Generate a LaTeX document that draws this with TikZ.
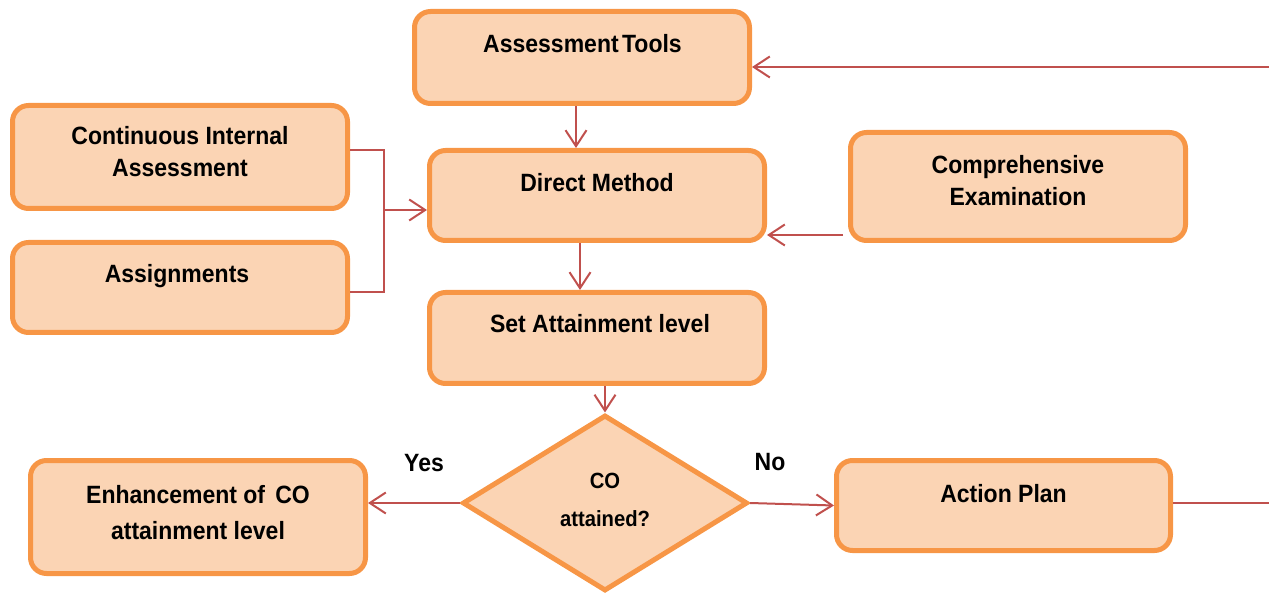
\documentclass[tikz,border=0pt]{standalone}
\usepackage{fontspec}
\newfontfamily\boxfont{Liberation Sans}[FakeStretch=0.92]
\usetikzlibrary{shapes.geometric,arrows.meta}
\definecolor{boxfill}{HTML}{FBD4B4}
\definecolor{boxline}{HTML}{F79646}
\definecolor{arrline}{HTML}{C0504D}
\newcommand\twoline[2]{\begin{tabular}[t]{@{}c@{}}#1\\#2\end{tabular}}
\tikzset{
  stepbox/.style={draw=boxline, fill=boxfill, line width=5pt, rounded corners=16pt,
    minimum width=335pt, inner sep=0pt, outer sep=2.5pt},
  decision/.style={draw=boxline, fill=boxfill, line width=5pt, shape=diamond,
    minimum width=285pt, minimum height=176pt, inner sep=0pt, outer sep=2.5pt},
  txt/.style={font=\boxfont\bfseries\fontsize{25}{32}\selectfont, anchor=base, inner sep=0pt},
  dtxt/.style={font=\boxfont\bfseries\fontsize{22}{38}\selectfont, anchor=base, inner sep=0pt},
  conn/.style={draw=arrline, line width=2pt},
  arr/.style={conn, -{Straight Barb[length=16pt,width=21pt]}},
}
\begin{document}
\begin{tikzpicture}[x=1pt,y=-1pt]
\useasboundingbox (0,0) rectangle (1269,593);
% boxes
\node[stepbox, minimum height=92pt]  (AT)  at (582,57.5) {};
\node[stepbox, minimum height=103pt] (CIA) at (180,157) {};
\node[stepbox, minimum height=90pt]  (ASG) at (180,287.5) {};
\node[stepbox, minimum height=90pt]  (DM)  at (597,195.5) {};
\node[stepbox, minimum height=108pt] (CE)  at (1018,186.5) {};
\node[stepbox, minimum height=91pt]  (SA)  at (597,338) {};
\node[decision] (D) at (605,503) {};
\node[stepbox, minimum height=113pt] (EN)  at (198,517) {};
\node[stepbox, minimum height=90pt, minimum width=334pt] (AP) at (1003.5,505.5) {};
% texts
\node[txt] (ATt)  at (582.5,53) {Assessment\hspace{-0.12em} Tools};
\node[txt] (CIAt) at (180,145) {\twoline{Continuous Internal}{Assessment}};
\node[txt] (ASGt) at (177,283) {Assignments};
\node[txt] (DMt)  at (597,192) {Direct Method};
\node[txt] (CEt)  at (1018,174) {\twoline{Comprehensive}{Examination}};
\node[txt] (SAt)  at (600,333) {Set Attainment level};
\node[dtxt] (Dt)  at (605,488) {\twoline{CO}{attained?}};
\node[txt,font=\boxfont\bfseries\fontsize{25}{36}\selectfont] (ENt) at (198,503) {\twoline{Enhancement of\hspace{0.15em} CO}{attainment level}};
\node[txt] (APt)  at (1003.5,502) {Action Plan};
\node[txt] (yes)  at (424,471) {Yes};
\node[txt] (no)   at (770,470) {No};
% helper coordinates
\coordinate (r1) at (1269,67);
\coordinate (r2) at (1269,503);
\coordinate (bx) at (384,210);
\coordinate (ce) at (843,235);
% connectors
\draw[arr] (r1) -- (r1 -| AT.east);
\draw[arr] ([xshift=-6pt]AT.south) -- ([xshift=-6pt]AT.south |- DM.north);
\draw[conn] ([yshift=7pt]CIA.east) -| (bx) |- ([yshift=-4.5pt]ASG.east);
\draw[arr] (bx) -- (bx -| DM.west);
\draw[arr] (ce) -- (ce -| DM.east);
\draw[arr] ([xshift=-17pt]DM.south) -- ([xshift=-17pt]DM.south |- SA.north);
\draw[arr] (SA.south -| D.north) -- (D.north);
\draw[arr] (D.west) -- (D.west -| EN.east);
\draw[arr] (D.east) -- (AP.west);
\draw[conn] ([yshift=2.5pt]AP.east) -- (r2);
\end{tikzpicture}
\end{document}
